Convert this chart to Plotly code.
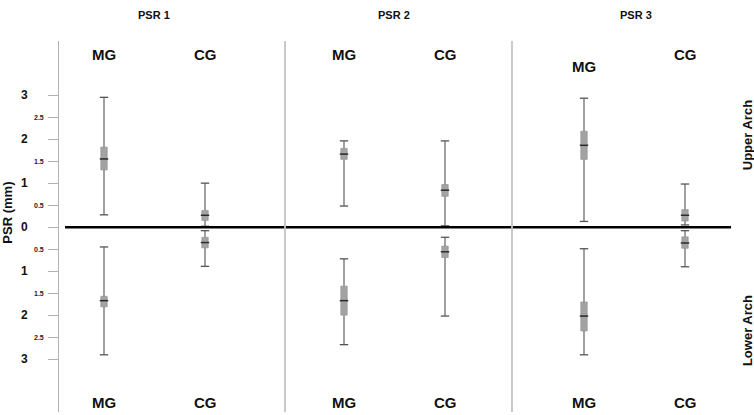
import plotly.graph_objects as go

# PSR values in mm (upper arch positive, lower arch negative)
groups = ["PSR 1", "PSR 2", "PSR 3"]
arms = ["MG", "CG"]

upper_min = [0.28, 0.02, 0.48, 0.03, 0.13, 0.05]
upper_q1 = [1.30, 0.15, 1.54, 0.70, 1.54, 0.14]
upper_med = [1.55, 0.27, 1.66, 0.84, 1.86, 0.27]
upper_q3 = [1.82, 0.38, 1.79, 0.97, 2.18, 0.40]
upper_max = [2.95, 1.00, 1.96, 1.96, 2.93, 0.98]

lower_min = [2.90, 0.89, 2.67, 2.02, 2.90, 0.90]
lower_q1 = [1.81, 0.47, 2.00, 0.69, 2.36, 0.48]
lower_med = [1.67, 0.35, 1.67, 0.56, 2.02, 0.36]
lower_q3 = [1.57, 0.23, 1.34, 0.43, 1.70, 0.22]
lower_max = [0.45, 0.08, 0.72, 0.23, 0.49, 0.08]

y_ticks = [3, 2.5, 2, 1.5, 1, 0.5, 0, -0.5, -1, -1.5, -2, -2.5, -3]

FONT = "Liberation Sans, Arial, sans-serif"
BOX = "#a3a3a3"
WHISK = "#6e6e6e"

# x position of each box: group spacing and arm offset
xs = []
for g in range(len(groups)):
    for a in range(len(arms)):
        xs.append(0.45 + 2.4 * g + 1.01 * a)

fig = go.Figure()

for sign, lo, q1, med, q3, hi in [
    (1, upper_min, upper_q1, upper_med, upper_q3, upper_max),
    (-1, lower_min, lower_q1, lower_med, lower_q3, lower_max),
]:
    # whiskers (two segments each, so they don't run through the box)
    wx, wy = [], []
    for i, x in enumerate(xs):
        wx += [x, x, None, x, x, None]
        wy += [sign * lo[i], sign * q1[i], None, sign * q3[i], sign * hi[i], None]
    fig.add_trace(go.Scatter(x=wx, y=wy, mode="lines",
                             line=dict(color=WHISK, width=1.3),
                             hoverinfo="skip", showlegend=False))
    # caps
    fig.add_trace(go.Scatter(x=xs + xs, y=[sign * v for v in lo] + [sign * v for v in hi],
                             mode="markers",
                             marker=dict(symbol="line-ew", size=6,
                                         line=dict(color="#555555", width=1.3)),
                             hoverinfo="skip", showlegend=False))
    # boxes
    fig.add_trace(go.Bar(x=xs, base=[sign * v for v in q1],
                         y=[sign * (b - a) for a, b in zip(q1, q3)],
                         width=0.065, marker=dict(color=BOX, line=dict(color="#929292", width=0.6)),
                         hoverinfo="skip", showlegend=False))
    # medians
    fig.add_trace(go.Scatter(x=xs, y=[sign * v for v in med], mode="markers",
                             marker=dict(symbol="line-ew", size=6,
                                         line=dict(color="#2a2a2a", width=1.5)),
                             hoverinfo="skip", showlegend=False))

shapes = [
    dict(type="line", xref="x", yref="y", x0=0.06, x1=6.72, y0=0, y1=0,
         line=dict(color="black", width=2.5)),
]
for sx in [2.26, 4.53]:
    shapes.append(dict(type="line", xref="x", yref="paper", x0=sx, x1=sx, y0=0, y1=1,
                       line=dict(color="#c4c4c4", width=1.8)))

annotations = []


def label(text, x, y, size, xref="x", yref="y", angle=0, color="#111"):
    annotations.append(dict(x=x, y=y, xref=xref, yref=yref, text=text, textangle=angle,
                            xanchor="center", yanchor="middle", showarrow=False,
                            font=dict(family=FONT, size=size, color=color)))


# y tick labels: whole numbers large, halves small
for v in y_ticks:
    if float(v).is_integer():
        label("<b>%d</b>" % abs(v), -0.049, v, 12, xref="paper")
    else:
        label("<b>%g</b>" % abs(v), -0.029, v, 7, xref="paper", color="#222")

# group titles and arm labels
for g, name in enumerate(groups):
    label("<b>%s</b>" % name, xs[2 * g] + 0.5 + (0.02 if g == 2 else 0), 1.07, 11, yref="paper")
    for a, arm in enumerate(arms):
        x = xs[2 * g + a]
        top_y = 3.66 if (g == 2 and a == 0) else 3.93
        label("<b>%s</b>" % arm, x, top_y, 15)
        label("<b>%s</b>" % arm, x, -3.98, 15)

label("<b>PSR (mm)</b>", -0.074, 0.32, 13, xref="paper", angle=-90)
label("<b>Upper Arch</b>", 0.99, 2.09, 13, xref="paper", angle=-90)
label("<b>Lower Arch</b>", 0.99, -2.36, 13, xref="paper", angle=-90)

fig.update_layout(
    width=754, height=415,
    margin=dict(l=59, r=0, t=41, b=3),
    paper_bgcolor="white", plot_bgcolor="white",
    barmode="overlay",
    shapes=shapes,
    annotations=annotations,
    xaxis=dict(range=[0, 6.95], showgrid=False, zeroline=False, showticklabels=False,
               ticks="", showline=False, fixedrange=True),
    yaxis=dict(range=[-4.2, 4.23], showgrid=False, zeroline=False, showticklabels=False,
               tickvals=y_ticks, ticks="outside", ticklen=10, tickcolor="#b0b0b0",
               showline=True, linecolor="#b0b0b0", linewidth=1.2),
    showlegend=False,
)

# drop the default 8px body margin so the figure fills the window exactly
fig.write_html("out.html", config={"displayModeBar": False},
               post_script="document.body.style.margin='0';document.body.style.overflow='hidden';")
